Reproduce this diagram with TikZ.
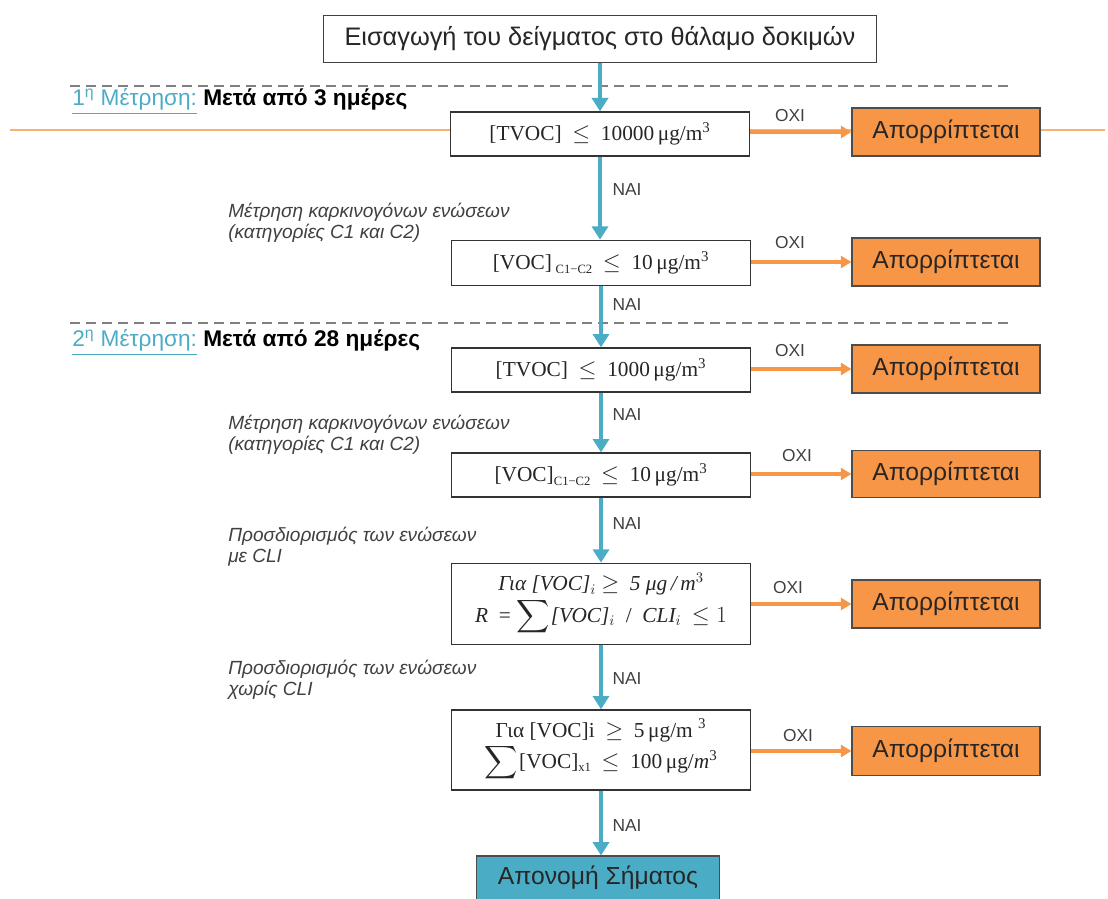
\documentclass[tikz,border=0pt]{standalone}
\usepackage{exscale}
\usepackage{fontspec}
\setmainfont{Liberation Sans}
\newfontfamily\cmb{Liberation Serif}
\usetikzlibrary{arrows.meta}
\definecolor{aqua}{HTML}{4BACC6}
\definecolor{orng}{HTML}{F79646}
\definecolor{orngline}{HTML}{F6B56E}
\definecolor{dashgray}{HTML}{808080}
\definecolor{txt}{HTML}{262626}
\definecolor{note}{HTML}{404040}
% small lowered index text such as C1-C2
\newcommand{\cidx}[1]{\raisebox{-0.35ex}{\fontsize{9.5}{10}\selectfont #1}}
% large summation sign
\newcommand{\bigsum}{$\displaystyle\sum$}
\begin{document}
\begin{tikzpicture}[x=0.75pt,y=-0.75pt,
  cond/.style={draw=black!80, line width=1pt, fill=white, minimum width=224pt,
    minimum height=33pt, inner sep=0pt, text=txt, align=center,
    font=\cmb\fontsize{16}{18}\selectfont},
  start/.style={draw=black!75, line width=1pt, fill=white, minimum width=415pt,
    minimum height=35pt, inner sep=0pt, text=txt, font=\fontsize{19}{22}\selectfont},
  reject/.style={draw=black!70, line width=0.8pt, fill=orng, minimum width=141pt,
    minimum height=36pt, inner sep=0pt, text=txt, font=\fontsize{18.5}{21}\selectfont},
  award/.style={draw=black!70, line width=0.8pt, fill=aqua, minimum width=182pt,
    minimum height=33pt, inner sep=0pt, text=txt, font=\fontsize{18.5}{21}\selectfont},
  yes/.style={draw=aqua, line width=3pt, -{Triangle[width=12pt,length=10pt]}},
  no/.style={draw=orng, line width=2.3pt, -{Triangle[width=9pt,length=8pt]}},
  ans/.style={text=note, font=\fontsize{13}{15}\selectfont, inner sep=1pt},
  note/.style={text=note, align=left, anchor=north west, inner sep=0pt,
    font=\itshape\fontsize{14.3}{15.5}\selectfont},
  stage/.style={anchor=west, inner sep=0pt, font=\fontsize{17}{20}\selectfont},
  sep/.style={draw=dashgray, line width=1.1pt, dash pattern=on 7.5pt off 4.5pt}
]
\useasboundingbox (0,0) rectangle (1108,899);

% thin orange guide line behind the first row
\coordinate (gl) at (10,130);
\coordinate (gr) at (1105,130);
\draw[orngline, line width=1pt] (gl) -- (gr);

% stage separators
\coordinate (s1l) at (70,86);  \coordinate (s1r) at (1010,86);
\coordinate (s2l) at (70,323); \coordinate (s2r) at (1010,323);
\path[sep] (s1l) -- (s1r);
\path[sep] (s2l) -- (s2r);

% stage headings
\node[stage] (h1) at (72,102) {\textcolor{aqua}{\underline{1\textsuperscript{η} Μέτρηση:}} \textbf{Μετά από 3 ημέρες}};
\node[stage] (h2) at (72,343) {\textcolor{aqua}{\underline{2\textsuperscript{η} Μέτρηση:}} \textbf{Μετά από 28 ημέρες}};

% main column
\node[start] (top) at (600,39) {Εισαγωγή του δείγματος στο θάλαμο δοκιμών};
\node[cond] (b1) at (600,134) {[TVOC] \ $\leq$ \ 10000\,μg/m\textsuperscript{3}};
\node[cond, minimum height=34pt] (b2) at (601,263) {[VOC]\,\cidx{C1−C2} \ $\leq$ \ 10\,μg/m\textsuperscript{3}};
\node[cond] (b3) at (601,370) {[TVOC] \ $\leq$ \ 1000\,μg/m\textsuperscript{3}};
\node[cond] (b4) at (601,475) {[VOC]\cidx{C1−C2} \ $\leq$ \ 10\,μg/m\textsuperscript{3}};
\node[cond, minimum height=61pt] (b5) at (601,604)
  {{\itshape Για [VOC]}$_i$ $\geq$ \ {\itshape 5 μg\,/\,m}$^3$\\[1pt]
   {\itshape R} \ = \bigsum\hspace{1pt}{\itshape [VOC]}$_i$ \ / \ {\itshape CLI}$_i$ \ $\leq 1$};
\node[cond, minimum height=60pt] (b6) at (601,750)
  {Για [VOC]i \ $\geq$ \ 5\,μg/m \textsuperscript{3}\\[1pt]
   \bigsum\hspace{1pt}[VOC]\cidx{x1} \ $\leq$ \ 100\,μg/{\itshape m}\textsuperscript{3}};
\node[award] (fin) at (598,878) {Απονομή Σήματος};

% rejection column
\node[reject] (r1) at (946,132) {Απορρίπτεται};
\node[reject] (r2) at (946,262) {Απορρίπτεται};
\node[reject] (r3) at (946,369) {Απορρίπτεται};
\node[reject, minimum height=35pt] (r4) at (946,474) {Απορρίπτεται};
\node[reject] (r5) at (946,604) {Απορρίπτεται};
\node[reject, minimum height=37pt] (r6) at (946,751) {Απορρίπτεται};

% side notes
\node[note] (n1) at (228,203) {Μέτρηση καρκινογόνων ενώσεων\\(κατηγορίες C1 και C2)};
\node[note] (n2) at (228,415) {Μέτρηση καρκινογόνων ενώσεων\\(κατηγορίες C1 και C2)};
\node[note] (n3) at (228,527) {Προσδιορισμός των ενώσεων\\με CLI};
\node[note] (n4) at (228,660) {Προσδιορισμός των ενώσεων\\χωρίς CLI};

% yes path
\draw[yes] (top) -- (b1);
\draw[yes] (b1) -- (b1 |- b2.north);
\draw[yes] (b2) -- (b2 |- b3.north);
\draw[yes] (b3) -- (b3 |- b4.north);
\draw[yes] (b4) -- (b4 |- b5.north);
\draw[yes] (b5) -- (b5 |- b6.north);
\draw[yes] (b6.south) -- (b6.south |- fin.north);

% no path
\draw[no] (b1.east |- r1) -- (r1.west);
\draw[no] (b2.east |- r2) -- (r2.west);
\draw[no] (b3.east |- r3) -- (r3.west);
\draw[no] (b4.east |- r4) -- (r4.west);
\draw[no] (b5.east |- r5) -- (r5.west);
\draw[no] (b6.east |- r6) -- (r6.west);

% answers
\node[ans, anchor=west] (y1) at (611,190) {ΝΑΙ};
\node[ans, anchor=west] (y2) at (611,305) {ΝΑΙ};
\node[ans, anchor=west] (y3) at (611,415) {ΝΑΙ};
\node[ans, anchor=west] (y4) at (611,524) {ΝΑΙ};
\node[ans, anchor=west] (y5) at (611,679) {ΝΑΙ};
\node[ans, anchor=west] (y6) at (611,826) {ΝΑΙ};
\node[ans] (x1) at (790,116) {ΟΧΙ};
\node[ans] (x2) at (790,243) {ΟΧΙ};
\node[ans] (x3) at (790,351) {ΟΧΙ};
\node[ans] (x4) at (797,456) {ΟΧΙ};
\node[ans] (x5) at (788,588) {ΟΧΙ};
\node[ans] (x6) at (798,736) {ΟΧΙ};
\end{tikzpicture}
\end{document}
